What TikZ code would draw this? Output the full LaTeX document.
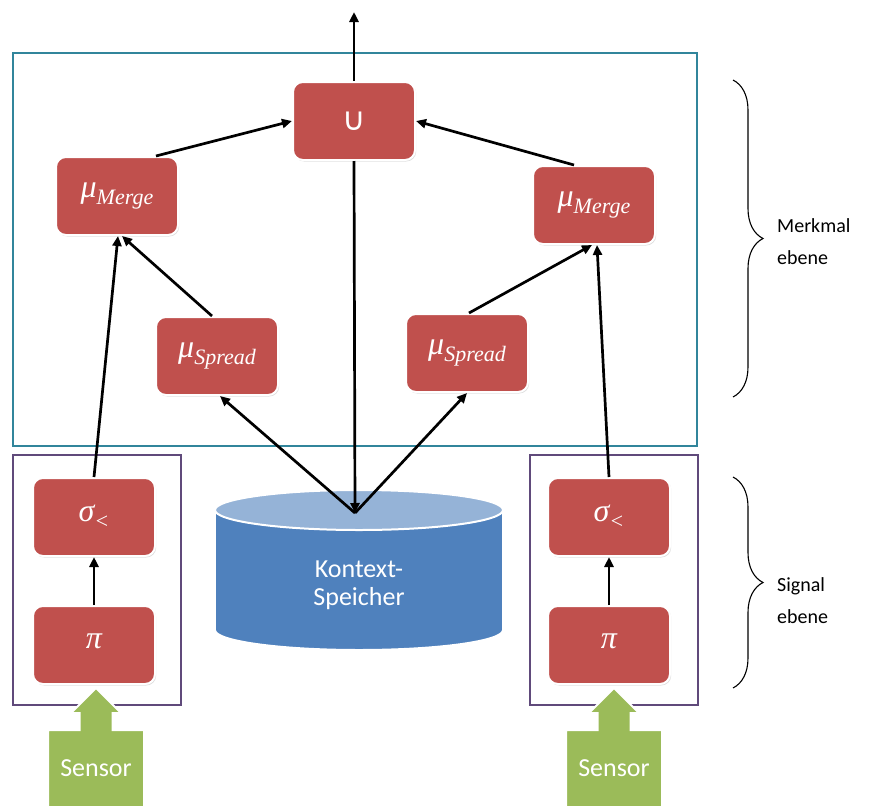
\documentclass[tikz,border=0pt]{standalone}
\usepackage{fontspec}
\setmainfont{Carlito}
\newfontfamily\mfont{Liberation Serif}
\newfontfamily\symfont{DejaVu Sans}
\newcommand\opsym[2]{{\mfont\itshape #1\raisebox{-0.22em}{\fontsize{22}{22}\selectfont #2}}}
\usetikzlibrary{arrows.meta,calc,shadows,decorations.pathreplacing}
\definecolor{boxred}{RGB}{192,80,77}
\definecolor{teal}{RGB}{49,133,155}
\definecolor{purp}{RGB}{96,74,123}
\definecolor{sgreen}{RGB}{155,187,89}
\definecolor{cylbody}{RGB}{79,129,189}
\definecolor{cyltop}{RGB}{149,179,215}
\begin{document}
\begin{tikzpicture}[x=1pt,y=-1pt,
  opbox/.style={rectangle, rounded corners=10pt, fill=boxred, draw=white, line width=2pt,
    minimum width=122pt, minimum height=78pt, text=white, inner sep=0pt,
    font=\fontsize{32}{34}\selectfont,
    drop shadow={shadow xshift=1.2pt, shadow yshift=-1.5pt, opacity=0.25}},
  arr/.style={line width=2.7pt, -{Triangle[length=10pt,width=9pt]}},
  layerbox/.style={line width=2.2pt},
  sensorshape/.style={fill=sgreen, draw=white, line width=2pt},
  lbl/.style={font=\fontsize{20}{32}\selectfont, align=left, anchor=west, inner sep=0pt},
  brc/.style={decorate, decoration={brace, amplitude=30pt, aspect=0.5}, line width=1.1pt}
]
\clip (0,0) rectangle (876,806);
\fill[white] (0,0) rectangle (876,806);

% layer frames
\draw[layerbox, draw=teal] (13,53) rectangle (697,446);
\draw[layerbox, draw=purp] (13,455) rectangle (181,705);
\draw[layerbox, draw=purp] (530,455) rectangle (698,705);

% nodes
\node[opbox, font=\symfont\fontsize{32}{34}\selectfont] (U) at (354,121) {∪};
\node[opbox] (mergeL) at (117,196) {\opsym{μ}{Merge}};
\node[opbox] (mergeR) at (594,205) {\opsym{μ}{Merge}};
\node[opbox] (spreadL) at (217,356) {\opsym{μ}{Spread}};
\node[opbox] (spreadR) at (467,353) {\opsym{μ}{Spread}};
\node[opbox] (sigL) at (94,517) {\opsym{σ}{<}};
\node[opbox] (piL) at (94,645) {\opsym{π}{}};
\node[opbox] (sigR) at (609,517) {\opsym{σ}{<}};
\node[opbox] (piR) at (609,645) {\opsym{π}{}};

% cylinder (Kontext-Speicher)
\draw[fill=cylbody, draw=white, line width=2pt] (359,630) ellipse [x radius=144pt, y radius=20pt];
\fill[cylbody] (215,510) rectangle (503,630);
\draw[white, line width=2pt] (215,510) -- (215,630) (503,510) -- (503,630);
\draw[fill=cyltop, draw=white, line width=2pt] (359,510) ellipse [x radius=144pt, y radius=20pt];
\node[text=white, font=\fontsize{26}{28}\selectfont, align=center] (ks) at (359,585) {Kontext-\\Speicher};
\coordinate (kc) at (355,513);

% sensors
\draw[sensorshape] (96,688) -- (121,713) -- (112.5,713) -- (112.5,730) -- (144,730) -- (144,812)
  -- (48,812) -- (48,730) -- (79.5,730) -- (79.5,713) -- (71,713) -- cycle;
\node[text=white, font=\fontsize{26}{30}\selectfont] (sensL) at (96,768) {Sensor};
\draw[sensorshape] (614,688) -- (639,713) -- (630.5,713) -- (630.5,730) -- (662,730) -- (662,812)
  -- (566,812) -- (566,730) -- (597.5,730) -- (597.5,713) -- (589,713) -- cycle;
\node[text=white, font=\fontsize{26}{30}\selectfont] (sensR) at (614,768) {Sensor};

% connectors
\coordinate (out) at (354,12);
\draw[arr] (U.north) -- (out);
\draw[arr] (U.south) -- (kc);
\draw[arr] (kc) -- ([xshift=3pt]spreadL.south);
\draw[arr] (kc) -- (spreadR.south);
\draw[arr] (piL.north) -- (sigL.south);
\draw[arr] (piR.north) -- (sigR.south);
\draw[arr] (sigL.north) -- ([xshift=1pt]mergeL.south);
\draw[arr] ([xshift=-5pt]spreadL.north) -- ([xshift=5pt]mergeL.south);
\draw[arr] ([xshift=-23pt]mergeL.north east) -- (U.west);
\draw[arr] ([xshift=42pt]mergeR.north west) -- (U.east);
\draw[arr] (sigR.north) -- ([xshift=3pt]mergeR.south);
\draw[arr] ([xshift=2pt]spreadR.north) -- ([xshift=-2pt]mergeR.south);

% braces and labels
\draw[brc] (733,80) -- (733,397);
\node[lbl] (merk) at (777,242) {Merkmal\\ebene};
\draw[brc] (733,477) -- (733,688);
\node[lbl] (sig) at (777,601) {Signal\\ebene};
\end{tikzpicture}
\end{document}
